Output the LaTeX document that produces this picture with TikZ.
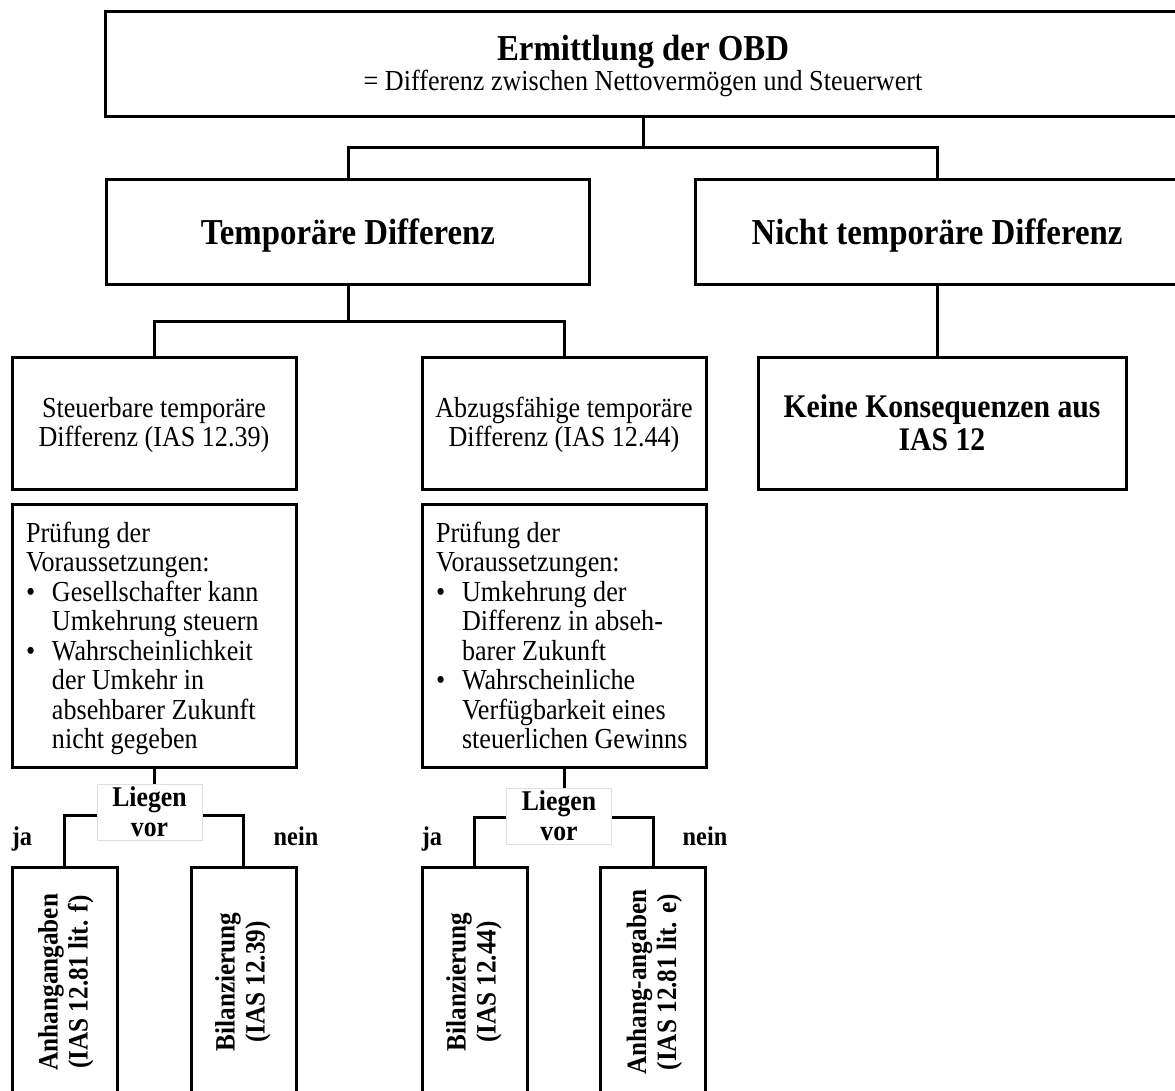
\documentclass[tikz,border=0pt]{standalone}
\usepackage{fontspec}
\setmainfont[FakeStretch=0.9]{Liberation Serif}
\usetikzlibrary{positioning}
\newcommand{\shiftdown}[2]{\raisebox{-#1}[\height][\depth]{#2}}
\newcommand{\lines}[1]{\begin{tabular}{@{}c@{}}#1\end{tabular}}
\newcommand{\checklist}[1]{\shiftdown{4pt}{\makebox[256pt][l]{\begin{tabular}{@{}p{26pt}@{}l@{}}#1\end{tabular}}}}
\newcommand{\whole}[1]{\multicolumn{2}{@{}l@{}}{#1}}
\tikzset{
  box/.style={draw,line width=3pt,inner sep=0pt,align=center},
  head/.style={box,minimum width=483pt,minimum height=105pt,text height=27pt,text depth=2pt,font=\fontsize{36.5}{40}\selectfont\bfseries},
  kind/.style={box,minimum width=284pt,minimum height=132pt,font=\fontsize{29}{28}\selectfont},
  check/.style={box,minimum width=284pt,minimum height=263pt,font=\fontsize{29}{29.5}\selectfont},
  ask/.style={draw=gray!25,line width=1pt,fill=white,minimum width=105pt,minimum height=56pt,inner sep=0pt,align=center,font=\fontsize{28.6}{30}\selectfont\bfseries},
  result/.style={box,rotate=90,minimum width=230pt,minimum height=105pt,font=\fontsize{28}{30}\selectfont\bfseries},
  conn/.style={line width=3pt},
  answer/.style={anchor=base,inner sep=0pt,font=\fontsize{27}{30}\selectfont\bfseries},
}
\begin{document}
\begin{tikzpicture}[x=1pt,y=-1pt]
  \useasboundingbox (0,0) rectangle (1175,1090);
  \clip (0,0) rectangle (1175,1090);
  % top
  \node[box,minimum width=1076pt,minimum height=105pt,font=\fontsize{29}{30}\selectfont] (obd) at (643,63.5)
    {\shiftdown{4pt}{\lines{{\fontsize{36.5}{40}\selectfont\bfseries Ermittlung der OBD}\\= Differenz zwischen Nettovermögen und Steuerwert}}};
  \node[head] (temp) at (348,231.5) {Temporäre Differenz};
  \node[head,minimum width=484pt] (nicht) at (937,231.5) {Nicht temporäre Differenz};
  \coordinate (bus1) at (643,147);
  \draw[conn] (obd.south) -- (bus1);
  \draw[conn] (temp.north) |- (bus1) -| (nicht.north);
  % kinds of difference
  \node[kind] (steuer) at (154,423) {\shiftdown{3pt}{\lines{Steuerbare temporäre\\Differenz (IAS 12.39)}}};
  \node[kind] (abzug) at (564,423) {\shiftdown{3pt}{\lines{Abzugsfähige temporäre\\Differenz (IAS 12.44)}}};
  \node[kind,minimum width=368pt,font=\fontsize{33}{33}\selectfont\bfseries] (keine) at (942,423) {Keine Konsequenzen aus\\IAS 12};
  \coordinate (bus2) at (348,321);
  \draw[conn] (temp.south) -- (bus2);
  \draw[conn] (steuer.north) |- (bus2) -| (abzug.north);
  \draw[conn] (nicht.south) -- (nicht.south |- keine.north);
  % checks
  \node[check] (pruef1) at (154,635.5) {\checklist{%
    \whole{Prüfung der}\\ \whole{Voraussetzungen:}\\
    \textbullet & Gesellschafter kann\\ & Umkehrung steuern\\
    \textbullet & Wahrscheinlichkeit\\ & der Umkehr in\\ & absehbarer Zukunft\\ & nicht gegeben}};
  \node[check] (pruef2) at (564,635.5) {\checklist{%
    \whole{Prüfung der}\\ \whole{Voraussetzungen:}\\
    \textbullet & Umkehrung der\\ & Differenz in abseh-\\ & barer Zukunft\\
    \textbullet & Wahrscheinliche\\ & Verfügbarkeit eines\\ & steuerlichen Gewinns}};
  % outcomes
  \node[result] (anh1) at (64.5,982) {\shiftdown{2pt}{\lines{Anhangangaben\\(IAS 12.81 lit. f)}}};
  \node[result] (bil1) at (243.5,982) {\lines{Bilanzierung\\(IAS 12.39)}};
  \node[result] (bil2) at (474.5,982) {\lines{Bilanzierung\\(IAS 12.44)}};
  \node[result] (anh2) at (653,982) {\shiftdown{2pt}{\lines{Anhang-angaben\\(IAS 12.81 lit. e)}}};
  \draw[conn] (anh1.east) |- (bil1.east |- 0,815) -- (bil1.east);
  \draw[conn] (bil2.east) |- (anh2.east |- 0,817) -- (anh2.east);
  \node[ask] (liegen1) at (149.5,812) {Liegen\\vor};
  \node[ask] (liegen2) at (559,816) {Liegen\\vor};
  \draw[conn] (pruef1.south) -- (pruef1.south |- liegen1.north);
  \draw[conn] (pruef2.south) -- (pruef2.south |- liegen2.north);
  \node[answer] (ja1) at (22,845) {ja};
  \node[answer] (nein1) at (296,845) {nein};
  \node[answer] (ja2) at (432,845) {ja};
  \node[answer] (nein2) at (705,845) {nein};
\end{tikzpicture}
\end{document}
